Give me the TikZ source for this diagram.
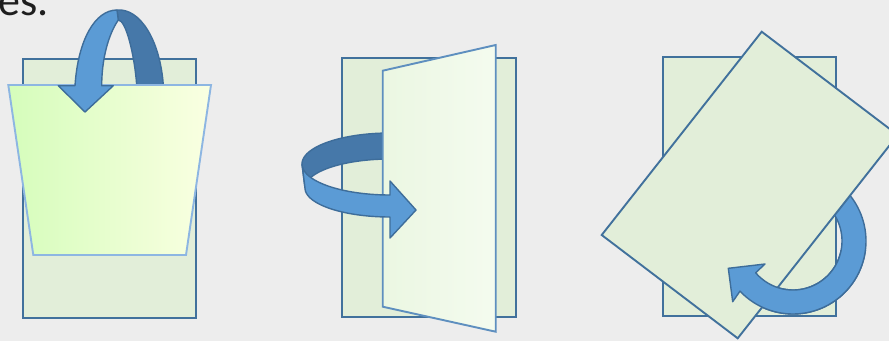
\documentclass[tikz,border=0pt]{standalone}
\usepackage{fontspec}
\newfontfamily\carl{Carlito}
\definecolor{bgc}{HTML}{EDEDED}
\definecolor{txtc}{HTML}{1E1E1E}
\definecolor{sheetfill}{HTML}{E2EED9}
\definecolor{sheetline}{HTML}{41719C}
\definecolor{trapline}{HTML}{8DB6E2}
\definecolor{trapleft}{HTML}{D5FDBB}
\definecolor{trapright}{HTML}{FAFFE2}
\definecolor{pageleft}{HTML}{EBF7E2}
\definecolor{pageright}{HTML}{F4FBEF}
\definecolor{pageline}{HTML}{5E8FBF}
\definecolor{arrowlight}{HTML}{5B9BD5}
\definecolor{arrowdark}{HTML}{4678A9}
\definecolor{arrowline}{HTML}{3E6D9A}
\tikzset{
  sheet/.style={fill=sheetfill, draw=sheetline, line width=1.9pt, line join=miter},
  bandlight/.style={fill=arrowlight, draw=arrowline, line width=1.4pt, line join=round},
  banddark/.style={fill=arrowdark, draw=arrowline, line width=1.4pt, line join=round},
}
\begin{document}
\begin{tikzpicture}[x=1pt,y=-1pt]
\clip (0,0) rectangle (889,341);
\fill[bgc] (0,0) rectangle (889,341);
\node[anchor=base west, inner sep=0, text=txtc, font=\carl\fontsize{44}{48}\selectfont] (title) at (-2,15) {es.};

% ---------- panel 1 : flip down ----------
\draw[sheet] (22.7,59.3) rectangle (196,317.7);
\draw[banddark] (117,10) .. controls (140,8) and (160,40) .. (163.3,85) -- (163.3,88) -- (136.7,88) -- (136.7,85)
   .. controls (134.5,55) and (126,20) .. (118.3,20) -- cycle;
\draw[left color=trapleft, right color=trapright, draw=trapline, line width=1.9pt]
   (8.3,85) -- (211,85) -- (186,255) -- (33.3,255) -- cycle;
\draw[bandlight] (75,85.7) .. controls (78,40) and (95,10) .. (117,10) -- (118.3,20)
   .. controls (108,35) and (101.7,60) .. (101.7,85.7) -- (113.3,85.7) -- (85,112) -- (58.3,85.7) -- cycle;

% ---------- panel 2 : page turn ----------
\draw[sheet] (342.3,58.3) rectangle (516,316.7);
\draw[banddark] plot[domain=270:180,samples=40] ({390+88*cos(\x)},{164+31*sin(\x)})
   -- plot[domain=180:270,samples=40] ({390+85*cos(\x)},{188+29*sin(\x)}) -- cycle;
\draw[left color=pageleft, right color=pageright, draw=pageline, line width=1.9pt]
   (382.7,70.7) -- (495.7,45) -- (495.7,331.7) -- (382.7,306.7) -- cycle;
\draw[bandlight] plot[domain=180:90,samples=40] ({390+88*cos(\x)},{164+31*sin(\x)})
   -- (390,181) -- (416,210) -- (390,238) -- (390,217)
   -- plot[domain=90:180,samples=40] ({390+85*cos(\x)},{188+29*sin(\x)}) -- cycle;

% ---------- panel 3 : rotate ----------
\draw[sheet] (662.7,57.3) rectangle (836,316);
\def\rotarrow{%
\draw[bandlight] plot[domain=-50:136.6,samples=60] ({793+73*cos(\x)},{241+73*sin(\x)})
   -- (732.7,301.7) -- (728.3,268.3) -- (765,264)
   -- plot[domain=139.6:-50,samples=60] ({793+49*cos(\x)},{241+49*sin(\x)}) -- cycle;}
\rotarrow
\draw[sheet] (761.7,31.7) -- (897.7,135) -- (737.7,338.3) -- (601.7,235) -- cycle;
\begin{scope}
  \clip (700,250) rectangle (889,341);
  \rotarrow
\end{scope}
\end{tikzpicture}
\end{document}
